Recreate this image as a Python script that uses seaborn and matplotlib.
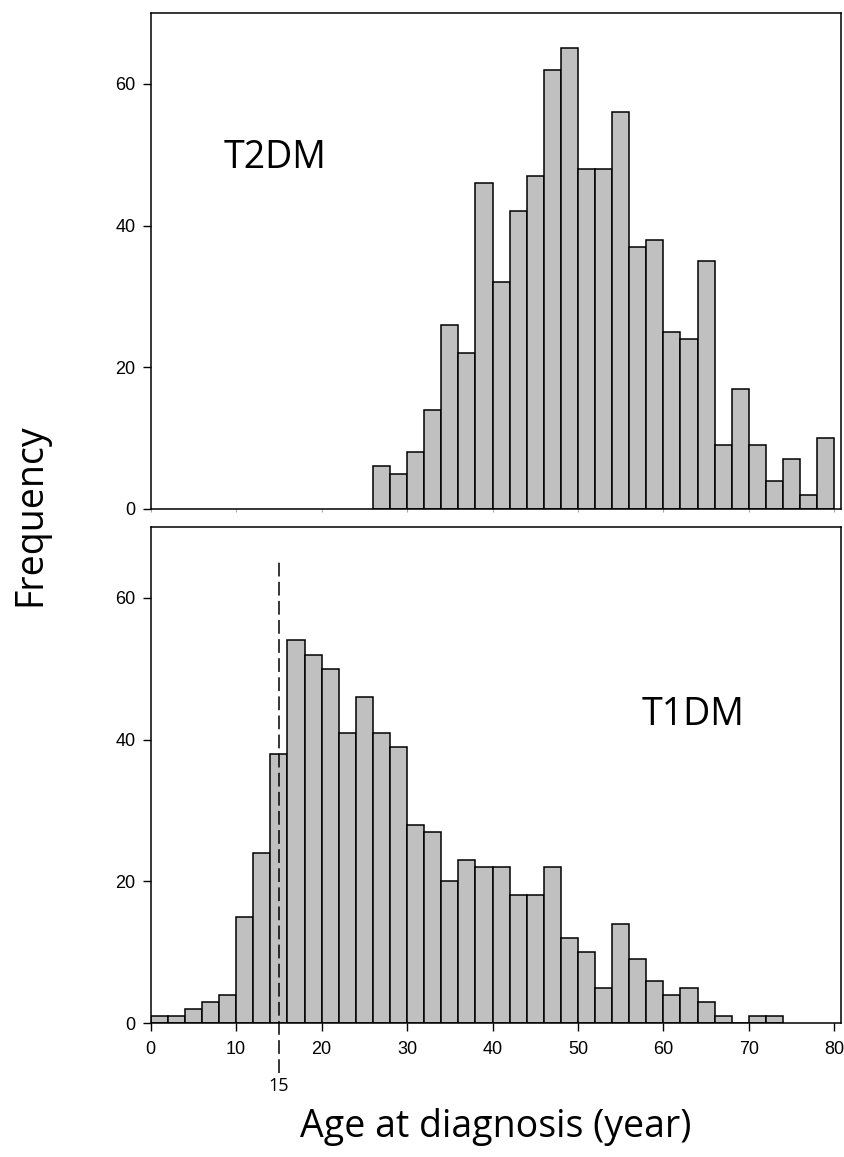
import numpy as np
import pandas as pd
import matplotlib
matplotlib.use("Agg")
import matplotlib.pyplot as plt
import seaborn as sns

# bin layout (2-year bins)
bin_width = 2
t2_range = (26, 80)
t1_range = (0, 74)

# counts
t2_counts = [6, 5, 8, 14, 26, 22, 46, 32, 42, 47, 62, 65, 48, 48,
             56, 37, 38, 25, 24, 35, 9, 17, 9, 4, 7, 2, 10]
t1_counts = [1, 1, 2, 3, 4, 15, 24, 38, 54, 52, 50, 41, 46, 41, 39,
             28, 27, 20, 23, 22, 22, 18, 18, 22, 12, 10, 5, 14, 9, 6,
             4, 5, 3, 1, 0, 1, 1]

x_ticks = [0, 10, 20, 30, 40, 50, 60, 70, 80]
y_ticks = [0, 20, 40, 60]
cutoff_age = 15

df_t2 = pd.DataFrame({"age": np.arange(t2_range[0], t2_range[1], bin_width) + bin_width / 2,
                      "n": t2_counts})
df_t1 = pd.DataFrame({"age": np.arange(t1_range[0], t1_range[1], bin_width) + bin_width / 2,
                      "n": t1_counts})

sns.set_style("ticks")
plt.rcParams["font.family"] = ["Liberation Sans", "DejaVu Sans"]
plt.rcParams["text.color"] = "black"
plt.rcParams["xtick.color"] = "black"
plt.rcParams["ytick.color"] = "black"
plt.rcParams["xtick.labelcolor"] = "black"
plt.rcParams["ytick.labelcolor"] = "black"
label_font = ["Open Sans", "DejaVu Sans"]

fig = plt.figure(figsize=(8.44, 11.57), dpi=100)
ax1 = fig.add_axes([0.1786, 0.5601, 0.8175, 0.4287])
ax2 = fig.add_axes([0.1786, 0.1158, 0.8175, 0.4287])

bar_kw = dict(color="#c0c0c0", edgecolor="black", linewidth=1.1, alpha=1)
sns.histplot(data=df_t2, x="age", weights="n", binwidth=bin_width,
             binrange=t2_range, ax=ax1, **bar_kw)
sns.histplot(data=df_t1, x="age", weights="n", binwidth=bin_width,
             binrange=t1_range, ax=ax2, **bar_kw)

for ax in (ax1, ax2):
    ax.set_xlim(0, 80.75)
    ax.set_ylim(0, 70)
    ax.set_yticks(y_ticks)
    ax.set_xticks(x_ticks)
    ax.set_xlabel("")
    ax.set_ylabel("")
    for s in ax.spines.values():
        s.set_visible(True)
        s.set_linewidth(1.1)
        s.set_color("black")
    ax.tick_params(axis="y", length=5.8, width=1.0, labelsize=13, pad=5)

ax1.tick_params(axis="x", length=2, width=0.8, color="#aaaaaa", labelbottom=False)
ax2.tick_params(axis="x", length=5.8, width=1.0, labelsize=13, pad=7)

# cut-off line at 15 years
ax2.plot([cutoff_age, cutoff_age], [-7.0, 65.4], color="black", lw=1.1,
         linestyle=(0, (9, 3.5)), clip_on=False)
ax2.annotate(str(cutoff_age), xy=(cutoff_age, 0), xytext=(0, -48.7),
             textcoords="offset points", ha="center", va="baseline",
             fontsize=13, family=label_font)

ax1.text(14.5, 49.6, "T2DM", fontsize=27, family=label_font, ha="center", va="center")
ax2.text(63.5, 43.4, "T1DM", fontsize=27, family=label_font, ha="center", va="center")

fig.text(0.0355, 0.555, "Frequency", rotation=90, fontsize=27,
         family=label_font, ha="center", va="center")
fig.text(0.5877, 0.0173, "Age at diagnosis (year)", fontsize=27,
         family=label_font, ha="center", va="baseline")

fig.savefig("out.png", dpi=100)
